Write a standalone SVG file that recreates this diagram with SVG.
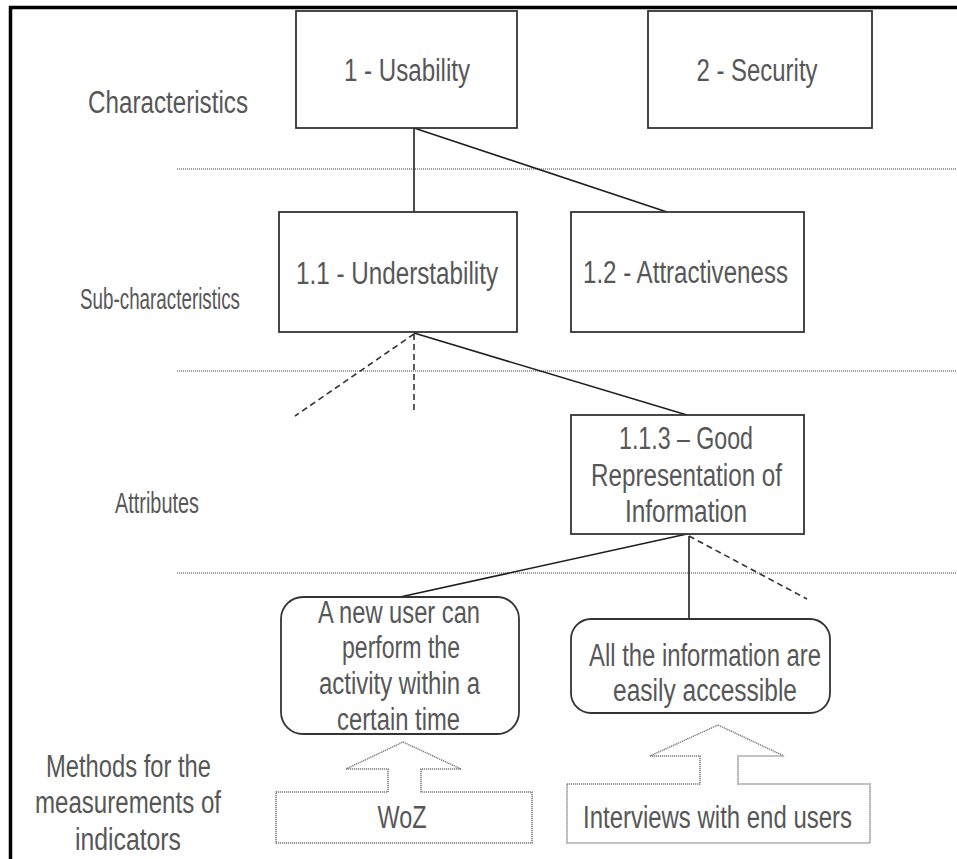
<svg xmlns="http://www.w3.org/2000/svg" width="957" height="859" viewBox="0 0 957 859">
  <style>
    .box { fill: #ffffff; stroke: #333333; stroke-width: 1.8; }
    .lbl { font-family: "Liberation Sans", Arial, sans-serif; font-size: 31px; fill: #575757; text-anchor: middle; }
    .small { font-size: 29px; }
    .link { stroke: #1e1e1e; stroke-width: 1.6; fill: none; }
    .dash { stroke: #333333; stroke-width: 1.6; fill: none; stroke-dasharray: 6 4; }
    .level { stroke: #7a7a7a; stroke-width: 1.5; stroke-dasharray: 1 1; fill: none; }
    .method { fill: #ffffff; stroke: #7a7a7a; stroke-width: 1.5; stroke-dasharray: 1.2 0.8; }
  </style>

  <!-- frame -->
  <path d="M 10.5 859 L 10.5 7.5 L 957 7.5" fill="none" stroke="#000000" stroke-width="3.5"/>

  <!-- level separators -->
  <g id="levels">
    <line class="level" x1="177" y1="169" x2="957" y2="169"/>
    <line class="level" x1="177" y1="371" x2="957" y2="371"/>
    <line class="level" x1="177" y1="573" x2="957" y2="573"/>
  </g>

  <!-- row labels -->
  <g id="row-labels">
    <text class="lbl" x="168" y="113" textLength="160" lengthAdjust="spacingAndGlyphs">Characteristics</text>
    <text class="lbl small" x="160" y="309" textLength="160" lengthAdjust="spacingAndGlyphs">Sub-characteristics</text>
    <text class="lbl small" x="157" y="513" textLength="84" lengthAdjust="spacingAndGlyphs">Attributes</text>
    <text class="lbl" x="128.5" y="777" textLength="165" lengthAdjust="spacingAndGlyphs">Methods for the</text>
    <text class="lbl" x="128" y="813" textLength="186" lengthAdjust="spacingAndGlyphs">measurements of</text>
    <text class="lbl" x="128" y="850" textLength="106" lengthAdjust="spacingAndGlyphs">indicators</text>
  </g>

  <!-- connectors -->
  <g id="connectors">
    <line class="link" x1="414" y1="128" x2="414" y2="212"/>
    <line class="link" x1="414" y1="128" x2="667" y2="212"/>
    <line class="link" x1="414" y1="333" x2="687" y2="415"/>
    <line class="dash" x1="414" y1="334" x2="295" y2="416"/>
    <line class="dash" x1="414" y1="334" x2="414" y2="412"/>
    <line class="link" x1="687" y1="534" x2="400" y2="597"/>
    <line class="link" x1="689" y1="536" x2="689" y2="619"/>
    <line class="dash" x1="689" y1="536" x2="807" y2="599"/>
  </g>

  <!-- characteristics -->
  <g id="usability">
    <rect class="box" x="296" y="11" width="221" height="117"/>
    <text class="lbl" x="407" y="81" textLength="126" lengthAdjust="spacingAndGlyphs">1 - Usability</text>
  </g>
  <g id="security">
    <rect class="box" x="648" y="11" width="224" height="117"/>
    <text class="lbl" x="757" y="81" textLength="121" lengthAdjust="spacingAndGlyphs">2 - Security</text>
  </g>

  <!-- sub-characteristics -->
  <g id="understability">
    <rect class="box" x="279" y="212" width="238" height="120"/>
    <text class="lbl" x="397" y="284" textLength="202" lengthAdjust="spacingAndGlyphs">1.1 - Understability</text>
  </g>
  <g id="attractiveness">
    <rect class="box" x="571" y="212" width="233" height="120"/>
    <text class="lbl" x="685.5" y="283" textLength="205" lengthAdjust="spacingAndGlyphs">1.2 - Attractiveness</text>
  </g>

  <!-- attribute -->
  <g id="good-representation">
    <rect class="box" x="571" y="415" width="233" height="119"/>
    <text class="lbl" x="686" y="449" textLength="134" lengthAdjust="spacingAndGlyphs">1.1.3 – Good</text>
    <text class="lbl" x="686.5" y="486" textLength="191" lengthAdjust="spacingAndGlyphs">Representation of</text>
    <text class="lbl" x="686" y="522" textLength="122" lengthAdjust="spacingAndGlyphs">Information</text>
  </g>

  <!-- indicators -->
  <g id="new-user-time">
    <rect class="box" x="281" y="597" width="238" height="137" rx="22" ry="22"/>
    <text class="lbl" x="399" y="623" textLength="162" lengthAdjust="spacingAndGlyphs">A new user can</text>
    <text class="lbl" x="401" y="658" textLength="118" lengthAdjust="spacingAndGlyphs">perform the</text>
    <text class="lbl" x="399.5" y="694" textLength="161" lengthAdjust="spacingAndGlyphs">activity within a</text>
    <text class="lbl" x="398.5" y="730" textLength="123" lengthAdjust="spacingAndGlyphs">certain time</text>
  </g>
  <g id="info-accessible">
    <rect class="box" x="571" y="619" width="259" height="94" rx="20" ry="20"/>
    <text class="lbl" x="705" y="666" textLength="232" lengthAdjust="spacingAndGlyphs">All the information are</text>
    <text class="lbl" x="705" y="701" textLength="184" lengthAdjust="spacingAndGlyphs">easily accessible</text>
  </g>

  <!-- measurement methods -->
  <g id="woz">
    <path class="method" d="M 276 792 L 388 792 L 388 769 L 346 769 L 403 742 L 461 769 L 421 769 L 421 792 L 532 792 L 532 843 L 276 843 Z"/>
    <text class="lbl" x="402" y="828" textLength="49" lengthAdjust="spacingAndGlyphs">WoZ</text>
  </g>
  <g id="interviews">
    <path class="method" d="M 567 784 L 700 784 L 700 756 L 650 756 L 718 725 L 784 756 L 738 756 L 738 784 L 870 784 L 870 843 L 567 843 Z"/>
    <text class="lbl" x="717.5" y="828" textLength="269" lengthAdjust="spacingAndGlyphs">Interviews with end users</text>
  </g>
</svg>
